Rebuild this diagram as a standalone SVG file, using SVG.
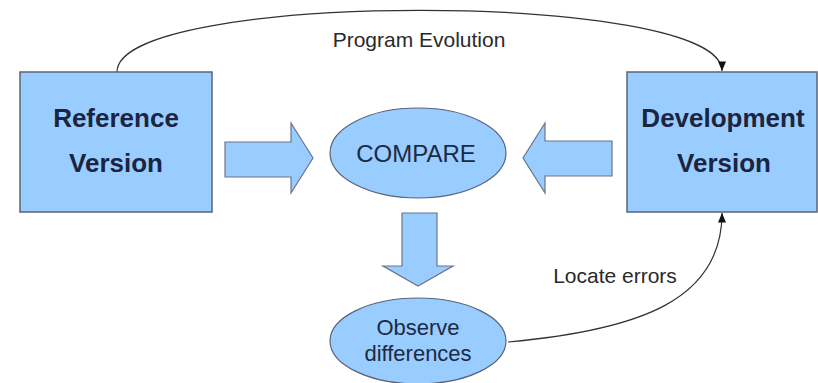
<svg xmlns="http://www.w3.org/2000/svg" width="818" height="383" viewBox="0 0 818 383">
  <style>
    .box { fill: #99ccff; stroke: #5a6478; stroke-width: 1.5; }
    .oval { fill: #99ccff; stroke: #5a6478; stroke-width: 1.2; }
    .block { fill: #99ccff; stroke: #6a7488; stroke-width: 1.2; }
    .title { font-family: "Liberation Sans", Arial, sans-serif; font-weight: bold; font-size: 26px; fill: #1c2440; text-anchor: middle; }
    .label { font-family: "Liberation Sans", Arial, sans-serif; font-size: 21px; fill: #2a2a2a; text-anchor: middle; }
    .oval-text { font-family: "Liberation Sans", Arial, sans-serif; font-size: 22px; fill: #1c2a44; text-anchor: middle; }
    .link { fill: none; stroke: #333; stroke-width: 1.2; }
  </style>
  <defs>
    <marker id="tip" viewBox="0 0 12 10" refX="12" refY="5" markerWidth="12" markerHeight="8" markerUnits="userSpaceOnUse" orient="auto">
      <path d="M0,0 L12,5 L0,10 Z" fill="#111"/>
    </marker>
  </defs>
  <rect width="818" height="383" fill="#ffffff"/>

  <g id="connectors">
    <path class="link" d="M117,72 C117,-10 722,-10 722,71" marker-end="url(#tip)"/>
    <path class="link" d="M508,342 C640,330 722,300 722,213" marker-end="url(#tip)"/>
    <text class="label" x="419" y="47">Program Evolution</text>
    <text class="label" x="615" y="283">Locate errors</text>
  </g>

  <g id="reference-version">
    <rect class="box" x="20" y="72" width="192" height="140"/>
    <text class="title" x="116" y="127">Reference</text>
    <text class="title" x="116" y="172">Version</text>
  </g>

  <g id="development-version">
    <rect class="box" x="627" y="72" width="190" height="140"/>
    <text class="title" x="723" y="127">Development</text>
    <text class="title" x="724" y="172">Version</text>
  </g>

  <g id="arrow-right">
    <path class="block" d="M225,142 L291,142 L291,123 L313,158 L291,193 L291,177 L225,177 Z"/>
  </g>

  <g id="arrow-left">
    <path class="block" d="M612,141 L545,141 L545,123 L523,158 L545,193 L545,176 L612,176 Z"/>
  </g>

  <g id="compare">
    <ellipse class="oval" cx="418" cy="153" rx="88" ry="45"/>
    <text class="oval-text" x="416" y="162" style="font-size:24px">COMPARE</text>
  </g>

  <g id="arrow-down">
    <path class="block" d="M402,213 L437,213 L437,266 L453,266 L418,286 L383,266 L402,266 Z"/>
  </g>

  <g id="observe-differences">
    <ellipse class="oval" cx="418" cy="341" rx="88" ry="43"/>
    <text class="oval-text" x="418" y="335">Observe</text>
    <text class="oval-text" x="418" y="361">differences</text>
  </g>
</svg>
